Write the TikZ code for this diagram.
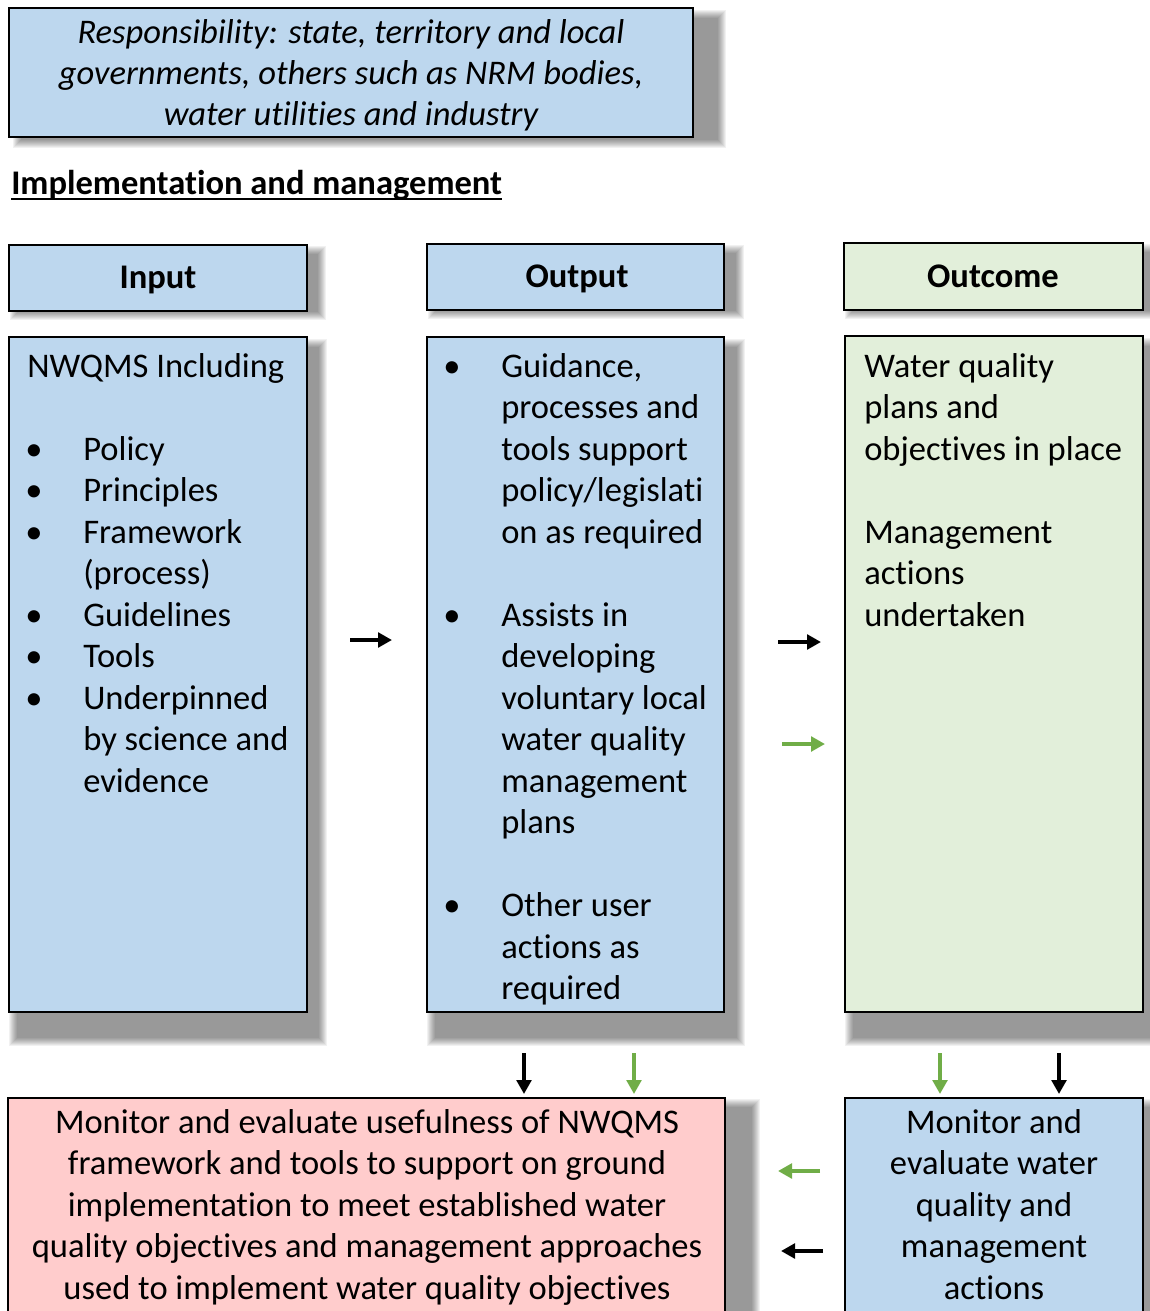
\documentclass[tikz,border=0pt]{standalone}
\usepackage{fontspec}
\setmainfont{Carlito}[Ligatures={NoCommon}]
\usetikzlibrary{arrows.meta,fit}
\definecolor{boxblue}{HTML}{BDD7EE}
\definecolor{boxgreen}{HTML}{E2EFDA}
\definecolor{boxpink}{HTML}{FFCCCC}
\definecolor{arrgreen}{HTML}{70AD47}
\newcommand\bodyfont{\fontsize{25.9pt}{31.1pt}\selectfont}
\newcommand\shadowrect[4]{%
  \foreach \e in {-4,-3,...,4}{\fill[black,opacity=0.055] ({#1-(\e)},{#2-(\e)}) rectangle ({#3+(\e)},{#4+(\e)});}}
\tikzset{
  box/.style={draw=black, line width=1.5pt, inner sep=0pt},
  ltxt/.style={font=\bodyfont, inner sep=0pt, anchor=base west},
  ctxt/.style={font=\bodyfont, inner sep=0pt, anchor=base},
  btxt/.style={font=\bodyfont\bfseries, inner sep=0pt, anchor=base},
  bul/.style={font=\bodyfont, inner sep=0pt, anchor=base},
  arrb/.style={line width=3.2pt, -{Triangle[length=10.5pt,width=11pt]}, draw=black},
  arrg/.style={arrb, draw=arrgreen}
}
\begin{document}
\begin{tikzpicture}[x=0.75pt,y=-0.75pt]
\useasboundingbox (0,0) rectangle (1150,1311);
% shadows
\shadowrect{17}{14}{722}{144}
\shadowrect{14}{250}{322}{316}
\shadowrect{432}{249}{740}{315}
\shadowrect{849}{248}{1160}{315}
\shadowrect{13}{343}{323}{1042}
\shadowrect{431}{343}{741}{1042}
\shadowrect{849}{342}{1160}{1042}
\shadowrect{12}{1103}{756}{1330}
\shadowrect{849}{1103}{1160}{1330}
% top box
\node[box, fill=boxblue, fit={(9,8) (693,137)}] (resp) {};
\node[ctxt, font=\bodyfont\itshape] (r1) at (351,43) {Responsibility: state, territory and local};
\node[ctxt, font=\bodyfont\itshape] (r2) at (351,84) {governments, others such as NRM bodies,};
\node[ctxt, font=\bodyfont\itshape] (r3) at (351,125) {water utilities and industry};
% heading
\node[ltxt, font=\bodyfont\bfseries] (head) at (11,194) {Implementation and management};
\draw[line width=1.3pt] ([yshift=-3.5pt]head.base west) -- ([yshift=-3.5pt]head.base east);
% column headers
\node[box, fill=boxblue, fit={(9,245) (307,311)}] (inh) {};
\node[btxt] (inht) at (158,288) {Input};
\node[box, fill=boxblue, fit={(427,244) (724,310)}] (outh) {};
\node[btxt] (outht) at (577,287) {Output};
\node[box, fill=boxgreen, fit={(844,243) (1143,310)}] (ouch) {};
\node[btxt] (oucht) at (993,287) {Outcome};
% big boxes
\node[box, fill=boxblue, fit={(9,337) (307,1012)}] (inb) {};
\node[box, fill=boxblue, fit={(427,337) (724,1012)}] (outb) {};
\node[box, fill=boxgreen, fit={(845,336) (1143,1012)}] (oucb) {};
% input text
\node[ltxt] (i0) at (27,377) {NWQMS Including};
\node[bul] (ib2) at (34,460) {•}; \node[ltxt] (i2) at (83,460) {Policy};
\node[bul] (ib3) at (34,501.5) {•}; \node[ltxt] (i3) at (83,501.5) {Principles};
\node[bul] (ib4) at (34,543) {•}; \node[ltxt] (i4) at (83,543) {Framework};
\node[ltxt] (i5) at (83,584.5) {(process)};
\node[bul] (ib6) at (34,626) {•}; \node[ltxt] (i6) at (83,626) {Guidelines};
\node[bul] (ib7) at (34,667.5) {•}; \node[ltxt] (i7) at (83,667.5) {Tools};
\node[bul] (ib8) at (34,709) {•}; \node[ltxt] (i8) at (83,709) {Underpinned};
\node[ltxt] (i9) at (83,750.5) {by science and};
\node[ltxt] (i10) at (83,792) {evidence};
% output text
\node[bul] (ob0) at (452,377) {•}; \node[ltxt] (o0) at (501,377) {Guidance,};
\node[ltxt] (o1) at (501,418.5) {processes and};
\node[ltxt] (o2) at (501,460) {tools support};
\node[ltxt] (o3) at (501,501.5) {policy/legislati};
\node[ltxt] (o4) at (501,543) {on as required};
\node[bul] (ob6) at (452,626) {•}; \node[ltxt] (o6) at (501,626) {Assists in};
\node[ltxt] (o7) at (501,667.5) {developing};
\node[ltxt] (o8) at (501,709) {voluntary local};
\node[ltxt] (o9) at (501,750.5) {water quality};
\node[ltxt] (o10) at (501,792) {management};
\node[ltxt] (o11) at (501,833.5) {plans};
\node[bul] (ob13) at (452,916.5) {•}; \node[ltxt] (o13) at (501,916.5) {Other user};
\node[ltxt] (o14) at (501,958) {actions as};
\node[ltxt] (o15) at (501,999.5) {required};
% outcome text
\node[ltxt] (u0) at (864,377) {Water quality};
\node[ltxt] (u1) at (864,418.5) {plans and};
\node[ltxt] (u2) at (864,460) {objectives in place};
\node[ltxt] (u4) at (864,543) {Management};
\node[ltxt] (u5) at (864,584.5) {actions};
\node[ltxt] (u6) at (864,626) {undertaken};
% bottom boxes
\node[box, fill=boxpink, fit={(8,1098) (725,1340)}] (pink) {};
\node[ctxt] (p1) at (367,1133) {Monitor and evaluate usefulness of NWQMS};
\node[ctxt] (p2) at (367,1174.5) {framework and tools to support on ground};
\node[ctxt] (p3) at (367,1216) {implementation to meet established water};
\node[ctxt] (p4) at (367,1257.5) {quality objectives and management approaches};
\node[ctxt] (p5) at (367,1299) {used to implement water quality objectives};
\node[box, fill=boxblue, fit={(845,1098) (1143,1340)}] (mon) {};
\node[ctxt] (m1) at (994,1133) {Monitor and};
\node[ctxt] (m2) at (994,1174.5) {evaluate water};
\node[ctxt] (m3) at (994,1216) {quality and};
\node[ctxt] (m4) at (994,1257.5) {management};
\node[ctxt] (m5) at (994,1299) {actions};
% arrows
\coordinate (a1s) at (350,640); \coordinate (a1e) at (392,640);
\coordinate (a2s) at (778,642); \coordinate (a2e) at (821,642);
\coordinate (a3s) at (782,744); \coordinate (a3e) at (825,744);
\coordinate (a4s) at (524,1053); \coordinate (a4e) at (524,1094);
\coordinate (a5s) at (634,1053); \coordinate (a5e) at (634,1094);
\coordinate (a6s) at (940,1053); \coordinate (a6e) at (940,1094);
\coordinate (a7s) at (1059,1053); \coordinate (a7e) at (1059,1094);
\coordinate (a8s) at (820,1171); \coordinate (a8e) at (778,1171);
\coordinate (a9s) at (823,1251); \coordinate (a9e) at (781,1251);
\draw[arrb] (a1s) -- (a1e);
\draw[arrb] (a2s) -- (a2e);
\draw[arrg] (a3s) -- (a3e);
\draw[arrb] (a4s) -- (a4e);
\draw[arrg] (a5s) -- (a5e);
\draw[arrg] (a6s) -- (a6e);
\draw[arrb] (a7s) -- (a7e);
\draw[arrg] (a8s) -- (a8e);
\draw[arrb] (a9s) -- (a9e);
\end{tikzpicture}
\end{document}
